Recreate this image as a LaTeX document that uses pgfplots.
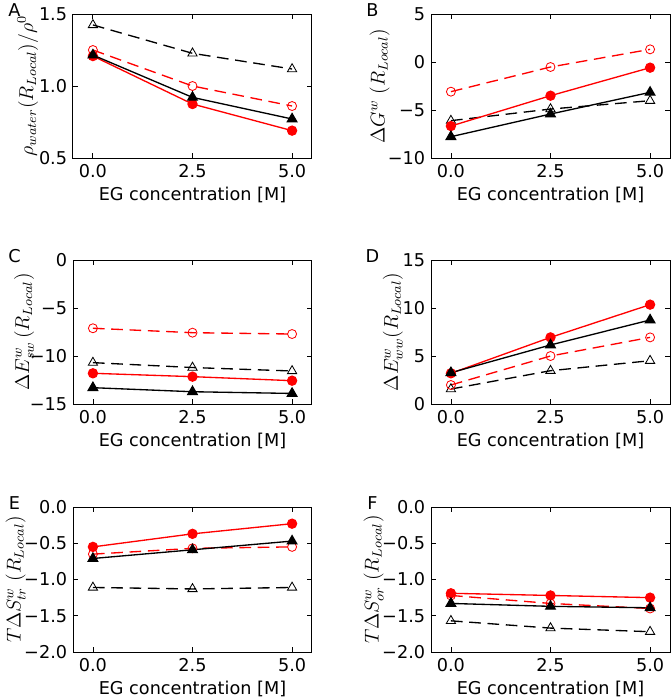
\documentclass[border=0pt]{standalone}
\usepackage{fontspec}
\setmainfont{DejaVu Sans}
\usepackage{pgfplots}
\pgfplotsset{compat=1.18}

% 1 px of the reference = 0.6pt
\newcommand\tfont{\fontsize{10.6}{13}\selectfont}
\newcommand\lfont{\fontsize{11.6}{14}\selectfont}
\pgfplotsset{
  panel/.style={
    scale only axis, width=143.4pt, height=86.4pt,
    anchor=north west,
    tick label style={font=\tfont},
    xlabel style={font=\tfont, at={(axis description cs:0.5,-0.255)}, anchor=center},
    ylabel style={font=\lfont, anchor=center},
    xmin=-0.5, xmax=5.5,
    xtick={0,2.5,5}, xticklabels={0.0,2.5,5.0},
    tick align=inside, major tick length=3pt,
    tick style={black, line width=0.5pt},
    axis line style={line width=0.6pt},
    xlabel={EG concentration [M]},
    clip=false,
  },
  bd/.style={black, line width=0.8pt, dash pattern=on 7pt off 4pt, mark=triangle, mark size=3.2pt, mark options={solid, fill=white, line width=0.5pt}},
  rs/.style={red, line width=0.8pt, mark=*, mark size=2.7pt, mark options={solid}},
  rd/.style={red, line width=0.8pt, dash pattern=on 7pt off 4pt, mark=o, mark size=2.7pt, mark options={solid, fill=white, line width=0.5pt}},
  bs/.style={black, line width=0.8pt, mark=triangle*, mark size=3.2pt, mark options={solid}},
}
\newcommand\plabel[1]{\node[font=\tfont] at (axis description cs:-0.245,1.03) {#1};}

\begin{document}
\begin{tikzpicture}
\path[use as bounding box] (0,0) rectangle (403.2pt,-418.8pt);

% A
\begin{axis}[panel, at={({73*0.6pt},{-14*0.6pt})},
  ymin=0.5, ymax=1.5, ytick={0.5,1.0,1.5}, yticklabels={0.5,1.0,1.5},
  ylabel={$\rho_{water}(R_{Local})/\rho^0$},
  ylabel style={at={(axis description cs:-0.19,0.5)}}]
\addplot[bd] coordinates {(0,1.424) (2.5,1.227) (5,1.118)};
\addplot[rs] coordinates {(0,1.208) (2.5,0.875) (5,0.690)};
\addplot[rd] coordinates {(0,1.250) (2.5,1.000) (5,0.861)};
\addplot[bs] coordinates {(0,1.215) (2.5,0.921) (5,0.771)};
\plabel{A}
\end{axis}

% B
\begin{axis}[panel, at={({431*0.6pt},{-14*0.6pt})},
  ymin=-10, ymax=5, ytick={-10,-5,0,5}, yticklabels={−10,−5,0,5},
  ylabel={$\Delta G^w\ (R_{Local})$},
  ylabel style={at={(axis description cs:-0.215,0.5)}}]
\addplot[bd] coordinates {(0,-6.11) (2.5,-4.90) (5,-4.03)};
\addplot[rs] coordinates {(0,-6.67) (2.5,-3.51) (5,-0.59)};
\addplot[rd] coordinates {(0,-3.09) (2.5,-0.52) (5,1.32)};
\addplot[bs] coordinates {(0,-7.78) (2.5,-5.42) (5,-3.16)};
\plabel{B}
\end{axis}

% C
\begin{axis}[panel, at={({73*0.6pt},{-260*0.6pt})},
  ymin=-15, ymax=0, ytick={-15,-10,-5,0}, yticklabels={−15,−10,−5,0},
  ylabel={$\Delta E^w_{sw}\,(R_{Local})$},
  ylabel style={at={(axis description cs:-0.205,0.5)}}]
\addplot[bd] coordinates {(0,-10.69) (2.5,-11.20) (5,-11.56)};
\addplot[rs] coordinates {(0,-11.80) (2.5,-12.15) (5,-12.57)};
\addplot[rd] coordinates {(0,-7.11) (2.5,-7.57) (5,-7.71)};
\addplot[bs] coordinates {(0,-13.30) (2.5,-13.72) (5,-13.90)};
\plabel{C}
\end{axis}

% D
\begin{axis}[panel, at={({431*0.6pt},{-260*0.6pt})},
  ymin=0, ymax=15, ytick={0,5,10,15}, yticklabels={0,5,10,15},
  ylabel={$\Delta E^w_{ww}(R_{Local})$},
  ylabel style={at={(axis description cs:-0.16,0.5)}}]
\addplot[bd] coordinates {(0,1.56) (2.5,3.47) (5,4.51)};
\addplot[rs] coordinates {(0,3.20) (2.5,6.94) (5,10.35)};
\addplot[rd] coordinates {(0,1.98) (2.5,5.00) (5,6.94)};
\addplot[bs] coordinates {(0,3.26) (2.5,6.15) (5,8.75)};
\plabel{D}
\end{axis}

% E
\begin{axis}[panel, at={({73*0.6pt},{-507*0.6pt})}, height=87pt,
  ymin=-2, ymax=0, ytick={-2,-1.5,-1,-0.5,0}, yticklabels={−2.0,−1.5,−1.0,−0.5,0.0},
  ylabel={$T\Delta S^w_{tr}\ (R_{Local})$},
  ylabel style={at={(axis description cs:-0.24,0.5)}}]
\addplot[bd] coordinates {(0,-1.11) (2.5,-1.13) (5,-1.11)};
\addplot[rs] coordinates {(0,-0.55) (2.5,-0.37) (5,-0.23)};
\addplot[rd] coordinates {(0,-0.65) (2.5,-0.57) (5,-0.55)};
\addplot[bs] coordinates {(0,-0.71) (2.5,-0.59) (5,-0.47)};
\plabel{E}
\end{axis}

% F
\begin{axis}[panel, at={({431*0.6pt},{-507*0.6pt})}, height=87pt,
  ymin=-2, ymax=0, ytick={-2,-1.5,-1,-0.5,0}, yticklabels={−2.0,−1.5,−1.0,−0.5,0.0},
  ylabel={$T\Delta S^w_{or}\ (R_{Local})$},
  ylabel style={at={(axis description cs:-0.24,0.5)}}]
\addplot[bd] coordinates {(0,-1.57) (2.5,-1.67) (5,-1.72)};
\addplot[rs] coordinates {(0,-1.19) (2.5,-1.22) (5,-1.25)};
\addplot[rd] coordinates {(0,-1.22) (2.5,-1.33) (5,-1.40)};
\addplot[bs] coordinates {(0,-1.33) (2.5,-1.37) (5,-1.39)};
\plabel{F}
\end{axis}
\end{tikzpicture}
\end{document}
